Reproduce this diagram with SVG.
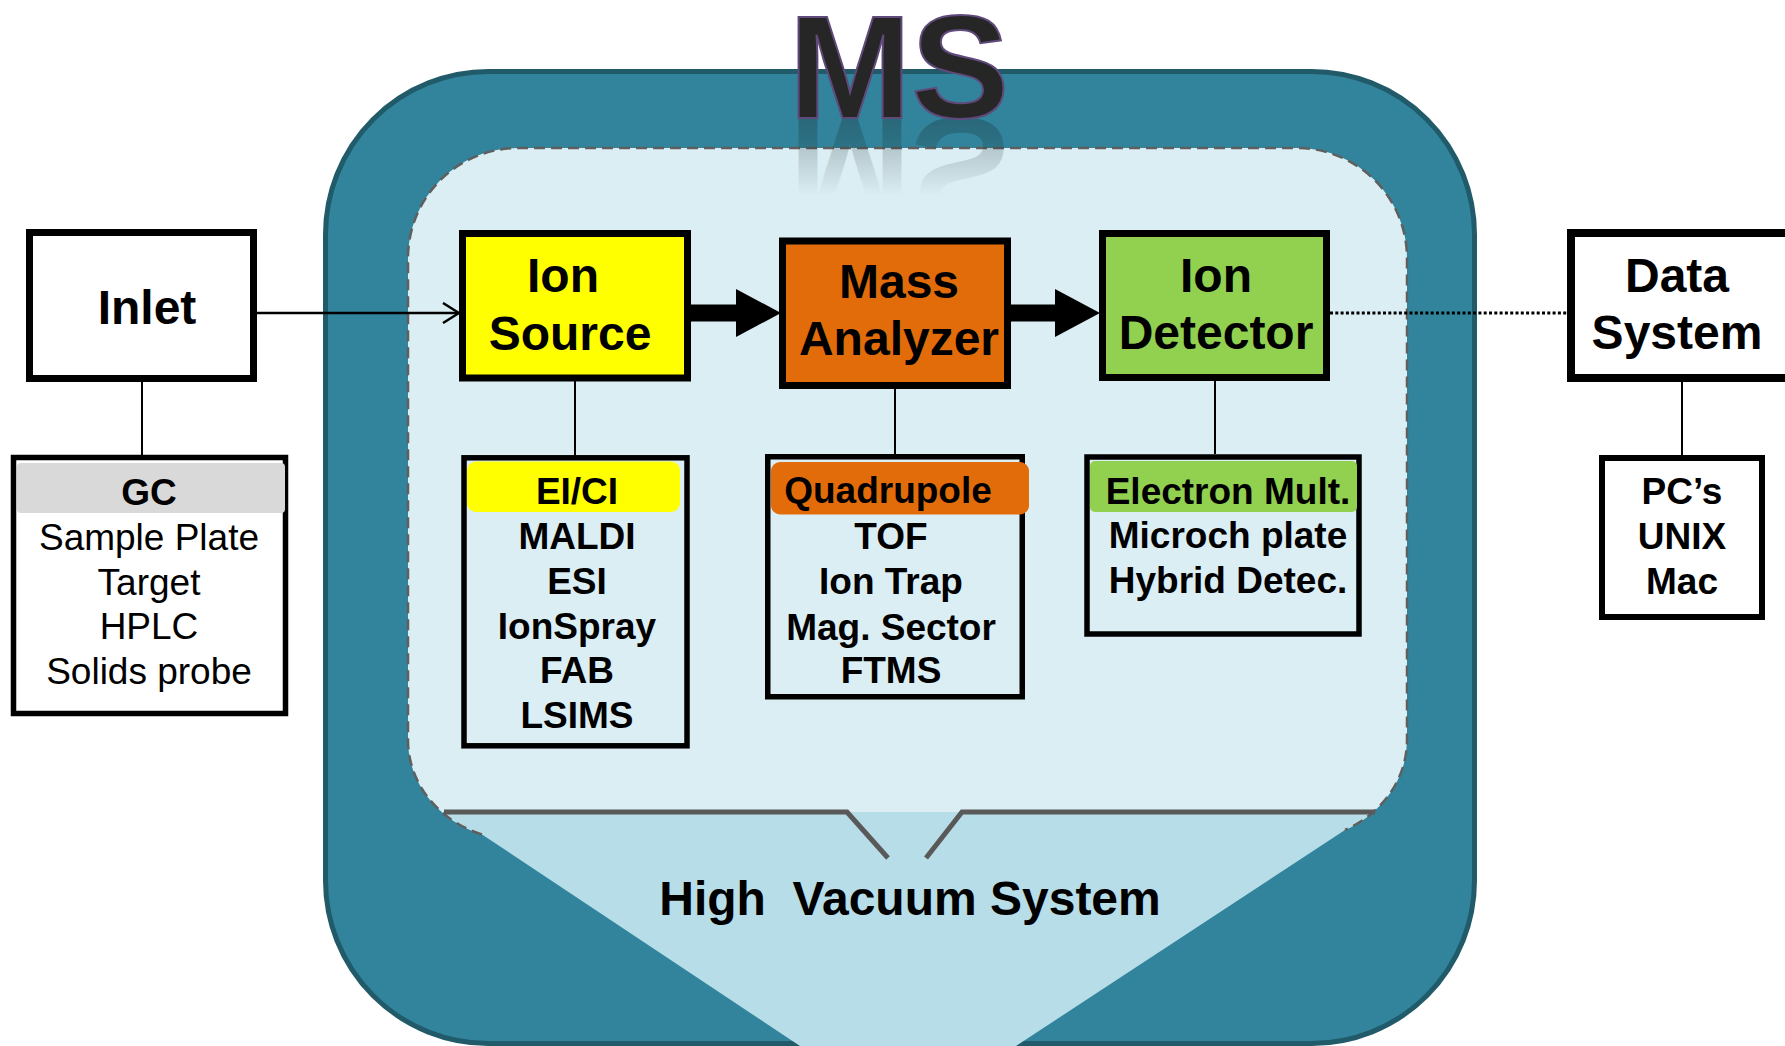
<svg xmlns="http://www.w3.org/2000/svg" width="1785" height="1046" viewBox="0 0 1785 1046">
<style>
  .box { stroke: #000; stroke-width: 7; }
  .sub { stroke: #000; stroke-width: 5.5; }
  .t { font-family: "Liberation Sans", Arial, sans-serif; font-weight: bold; fill: #000; text-anchor: middle; }
  .big { font-size: 48px; }
  .sm { font-size: 37px; }
  .reg { font-weight: normal; }
  .link { stroke: #000; stroke-width: 2; fill: none; }
</style>
<defs>
  <marker id="open" viewBox="0 0 18 22" markerWidth="18" markerHeight="22" refX="17" refY="11" orient="auto" markerUnits="userSpaceOnUse">
    <path d="M1,1 L17,11 L1,21" fill="none" stroke="#000" stroke-width="2.5"/>
  </marker>
  <marker id="fat" viewBox="0 0 45 48" markerWidth="45" markerHeight="48" refX="0" refY="24" orient="auto" markerUnits="userSpaceOnUse">
    <path d="M0,0 L45,24 L0,48 Z" fill="#000"/>
  </marker>
  <linearGradient id="refl" gradientUnits="userSpaceOnUse" x1="0" y1="118" x2="0" y2="40">
    <stop offset="0" stop-color="#1a2a30" stop-opacity="0.32"/>
    <stop offset="1" stop-color="#1a2a30" stop-opacity="0"/>
  </linearGradient>
</defs>

<g id="ms-housing">
  <rect x="325.5" y="71.5" width="1149" height="972" rx="163" ry="163" fill="#31849b" stroke="#215a69" stroke-width="5"/>
  <path d="M482,834.5 A110,100 0 0 1 408,740 V258 A110,110 0 0 1 518,148 H1297 A110,110 0 0 1 1407,258 V740 A110,100 0 0 1 1345,830 Z" fill="#dbeef4"/>
  <path d="M442,812 L1373,812 A110,100 0 0 1 1345,830 L1016,1046 L800,1046 L482,834.5 A110,100 0 0 1 442,812 Z" fill="#b7dde8"/>
  <path d="M482,834.5 A110,100 0 0 1 408,740 V258 A110,110 0 0 1 518,148 H1297 A110,110 0 0 1 1407,258 V740 A110,100 0 0 1 1345,830" fill="none" stroke="#5f5f5f" stroke-width="2.5" stroke-dasharray="11 6"/>
  <path d="M444,812 H847 L888,858 M926,858 L962,812 H1375" fill="none" stroke="#595959" stroke-width="5"/>
  <text class="t" x="910" y="915" font-size="48" style="white-space:pre">High  Vacuum System</text>
</g>

<g id="title">
  <text class="t" x="899" y="118" font-size="147" style="fill:url(#refl)" transform="translate(0,236) scale(1,-1)">MS</text>
  <text class="t" x="899" y="118" font-size="147" style="fill:#262626" stroke="#604a7b" stroke-width="2">MS</text>
</g>

<g id="connectors">
  <line x1="257" y1="313" x2="459" y2="313" stroke="#000" stroke-width="2.5" marker-end="url(#open)"/>
  <line x1="691" y1="313" x2="736" y2="313" stroke="#000" stroke-width="17" marker-end="url(#fat)"/>
  <line x1="1011" y1="313" x2="1055" y2="313" stroke="#000" stroke-width="17" marker-end="url(#fat)"/>
  <line x1="1330" y1="313" x2="1567" y2="313" stroke="#000" stroke-width="3" stroke-dasharray="3 2.3"/>
  <line class="link" x1="142" y1="382" x2="142" y2="455"/>
  <line class="link" x1="575" y1="381" x2="575" y2="455"/>
  <line class="link" x1="895" y1="388" x2="895" y2="454"/>
  <line class="link" x1="1215" y1="381" x2="1215" y2="454"/>
  <line class="link" x1="1682" y1="382" x2="1682" y2="455"/>
</g>

<g id="inlet">
  <rect class="box" x="29.5" y="232.5" width="224" height="146" fill="#fff"/>
  <text class="t big" x="147" y="324">Inlet</text>
</g>

<g id="inlet-list">
  <rect class="sub" x="13.5" y="457.5" width="272" height="256" fill="#fff"/>
  <rect x="17" y="463" width="268" height="50" rx="4" fill="#d9d9d9"/>
  <text class="t sm" x="149" y="505">GC</text>
  <text class="t sm reg" x="149" y="550">Sample Plate</text>
  <text class="t sm reg" x="149" y="595">Target</text>
  <text class="t sm reg" x="149" y="639">HPLC</text>
  <text class="t sm reg" x="149" y="684">Solids probe</text>
</g>

<g id="ion-source">
  <rect class="box" x="462.5" y="233.5" width="225" height="144.5" fill="#ffff00"/>
  <text class="t big" x="563" y="292">Ion</text>
  <text class="t big" x="570" y="350">Source</text>
</g>

<g id="ion-source-list">
  <rect class="sub" x="464" y="457.8" width="223" height="288" fill="#dbeef4"/>
  <rect x="467" y="461.5" width="213" height="50.5" rx="9" fill="#ffff00"/>
  <text class="t sm" x="577" y="504">EI/CI</text>
  <text class="t sm" x="577" y="549">MALDI</text>
  <text class="t sm" x="577" y="594">ESI</text>
  <text class="t sm" x="577" y="639">IonSpray</text>
  <text class="t sm" x="577" y="683">FAB</text>
  <text class="t sm" x="577" y="728">LSIMS</text>
</g>

<g id="mass-analyzer">
  <rect class="box" x="782.5" y="241" width="225" height="144.5" fill="#e36c0a"/>
  <text class="t big" x="899" y="298">Mass</text>
  <text class="t big" x="899" y="355">Analyzer</text>
</g>

<g id="mass-analyzer-list">
  <rect class="sub" x="767.75" y="456.75" width="254.5" height="240" fill="#dbeef4"/>
  <rect x="771" y="462" width="258" height="52.5" rx="9" fill="#e36c0a"/>
  <text class="t sm" x="888" y="503">Quadrupole</text>
  <text class="t sm" x="891" y="549">TOF</text>
  <text class="t sm" x="891" y="594">Ion Trap</text>
  <text class="t sm" x="891" y="640">Mag. Sector</text>
  <text class="t sm" x="891" y="683">FTMS</text>
</g>

<g id="ion-detector">
  <rect class="box" x="1102.5" y="233.5" width="224" height="144" fill="#92d050"/>
  <text class="t big" x="1216" y="292">Ion</text>
  <text class="t big" x="1216" y="349">Detector</text>
</g>

<g id="ion-detector-list">
  <rect class="sub" x="1087" y="457" width="272" height="177" fill="#dbeef4"/>
  <rect x="1090" y="461" width="267" height="51" rx="5" fill="#92d050"/>
  <text class="t sm" x="1228" y="504">Electron Mult.</text>
  <text class="t sm" x="1228" y="548">Microch plate</text>
  <text class="t sm" x="1228" y="593">Hybrid Detec.</text>
</g>

<g id="data-system">
  <rect x="1571" y="233" width="250" height="145" fill="#fff" stroke="#000" stroke-width="8"/>
  <text class="t big" x="1677" y="292">Data</text>
  <text class="t big" x="1677" y="349">System</text>
</g>

<g id="data-system-list">
  <rect x="1602" y="458" width="160" height="159" fill="#fff" stroke="#000" stroke-width="6"/>
  <text class="t sm" x="1682" y="504">PC’s</text>
  <text class="t sm" x="1682" y="549">UNIX</text>
  <text class="t sm" x="1682" y="594">Mac</text>
</g>
</svg>
